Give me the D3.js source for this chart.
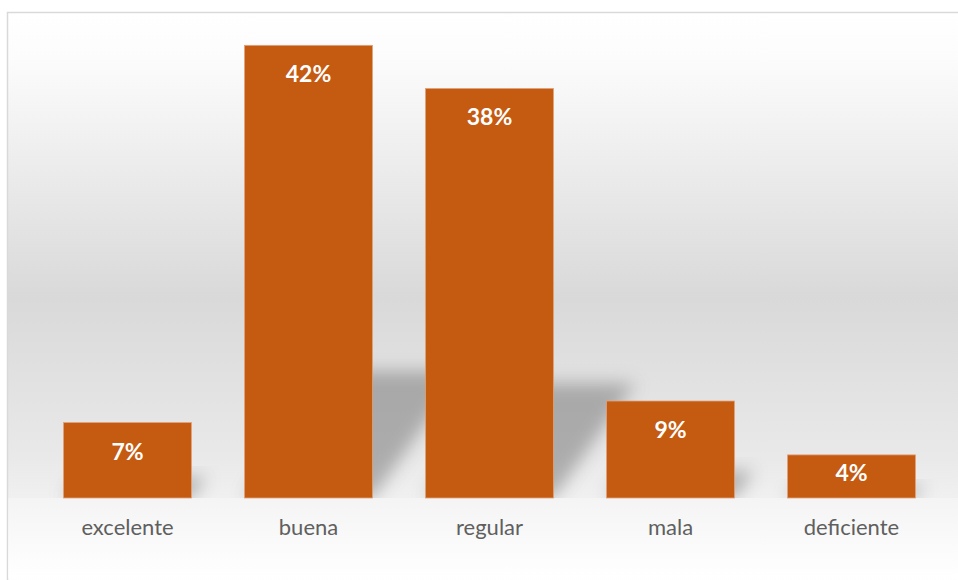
<!DOCTYPE html>
<html>
<head>
<meta charset="utf-8">
<script src="https://cdn.jsdelivr.net/npm/d3@7"></script>
<style>
  body { margin: 0; background: #fff; }
  svg { display: block; }
</style>
</head>
<body>
<div id="chart"></div>
<script>
var categories = ["excelente", "buena", "regular", "mala", "deficiente"];
var values = [7, 42, 38, 9, 4];
var valueLabels = ["7%", "42%", "38%", "9%", "4%"];

var width = 958, height = 580;
var barColor = "#c55a11";

var svg = d3.select("#chart").append("svg")
    .attr("width", width)
    .attr("height", height);

var defs = svg.append("defs");

var bg = defs.append("linearGradient")
    .attr("id", "bg").attr("x1", 0).attr("y1", 0).attr("x2", 0).attr("y2", 1);
bg.append("stop").attr("offset", "0%").attr("stop-color", "#ffffff");
bg.append("stop").attr("offset", "8%").attr("stop-color", "#fcfcfc");
bg.append("stop").attr("offset", "50%").attr("stop-color", "#d9d9d9");
bg.append("stop").attr("offset", "78%").attr("stop-color", "#e9e9e9");
bg.append("stop").attr("offset", "100%").attr("stop-color", "#ffffff");

var floor = defs.append("linearGradient")
    .attr("id", "floor").attr("x1", 0).attr("y1", 0).attr("x2", 0).attr("y2", 1);
floor.append("stop").attr("offset", "0%").attr("stop-color", "#f4f4f4");
floor.append("stop").attr("offset", "100%").attr("stop-color", "#ffffff");

defs.append("filter").attr("id", "blur")
    .attr("x", "-50%").attr("y", "-50%").attr("width", "200%").attr("height", "200%")
  .append("feGaussianBlur").attr("stdDeviation", 8.5);

defs.append("clipPath").attr("id", "wall")
  .append("rect").attr("x", 0).attr("y", 0).attr("width", width).attr("height", 498);

// chart area
svg.append("rect")
    .attr("x", 7.5).attr("y", 12.5)
    .attr("width", 960).attr("height", 570)
    .attr("fill", "url(#bg)")
    .attr("stroke", "#d9d9d9")
    .attr("stroke-width", 1.5);

var x = d3.scaleBand()
    .domain(categories)
    .range([37, 942])
    .paddingInner(0.293)
    .paddingOuter(0.1465);

var y = d3.scaleLinear()
    .domain([0, 45])
    .range([498, 13]);

var base = y(0);

// floor
svg.append("rect")
    .attr("x", 8.3).attr("y", base)
    .attr("width", width).attr("height", 80)
    .attr("fill", "url(#floor)");

// perspective shadows
svg.append("g")
    .attr("clip-path", "url(#wall)")
  .selectAll("polygon")
  .data(values)
  .enter()
  .append("polygon")
    .attr("points", function(d, i) {
        var x0 = x(categories[i]), x1 = x0 + x.bandwidth();
        var h = base - y(d);
        var up = h * 0.28, dx = h * 0.2;
        return [[x0, base], [x1, base], [x1 + dx, base - up], [x0 + dx, base - up]]
            .map(function(p) { return p.join(","); }).join(" ");
    })
    .attr("fill", "#6f6f6f")
    .attr("opacity", 0.5)
    .attr("filter", "url(#blur)");

// bars
svg.append("g").selectAll("rect")
    .data(values)
    .enter()
    .append("rect")
    .attr("x", function(d, i) { return x(categories[i]); })
    .attr("y", function(d) { return y(d); })
    .attr("width", x.bandwidth())
    .attr("height", function(d) { return base - y(d); })
    .attr("fill", barColor)
    .attr("stroke", "#e0a47c")
    .attr("stroke-width", 0.8);

// value labels
svg.append("g").selectAll("text")
    .data(values)
    .enter()
    .append("text")
    .attr("x", function(d, i) { return x(categories[i]) + x.bandwidth() / 2; })
    .attr("y", function(d) {
        var top = y(d);
        return Math.min(top + 37, (top + base) / 2 + 5);
    })
    .attr("text-anchor", "middle")
    .style("font-family", "Lato, 'Open Sans', sans-serif")
    .style("font-weight", "bold")
    .style("font-size", "23px")
    .attr("fill", "#ffffff")
    .text(function(d, i) { return valueLabels[i]; });

// category axis
var xAxis = svg.append("g")
    .attr("transform", "translate(0," + base + ")")
    .call(d3.axisBottom(x).tickSize(0).tickPadding(0));
xAxis.select(".domain").remove();
xAxis.selectAll("text")
    .attr("y", 36.5)
    .attr("dy", 0)
    .style("font-family", "Lato, 'Open Sans', sans-serif")
    .style("font-size", "22px")
    .attr("fill", "#5f5f5f");
</script>
</body>
</html>
